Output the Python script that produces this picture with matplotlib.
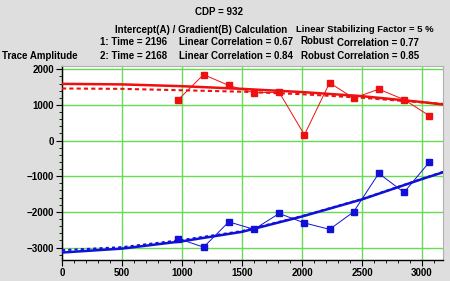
import matplotlib
matplotlib.use('Agg')
import matplotlib.pyplot as plt
from matplotlib.ticker import MultipleLocator

plt.rcParams['font.family'] = ['Liberation Sans', 'DejaVu Sans']
plt.rcParams['font.weight'] = 'bold'

# Gemessene Amplituden (Offset gegen Amplitude)
offsets = [970, 1180, 1390, 1600, 1810, 2020, 2230, 2430, 2640, 2850, 3060]
amp_1 = [1150, 1850, 1545, 1340, 1355, 160, 1620, 1190, 1440, 1150, 700]
amp_2 = [-2750, -2990, -2280, -2490, -2045, -2310, -2490, -2000, -920, -1455, -610]

# Angepasste Kurven
fit_x = [0, 500, 1000, 1500, 2000, 2500, 3000, 3175]
fit_1_linear = [1590, 1575, 1525, 1450, 1360, 1245, 1080, 1010]
fit_1_robust = [1460, 1450, 1410, 1370, 1300, 1200, 1070, 1030]
fit_2_linear = [-3140, -3030, -2825, -2560, -2130, -1650, -1080, -890]
fit_2_robust = [-3075, -2990, -2790, -2540, -2120, -1640, -1075, -880]

red = '#ee1010'
blue = '#1010d8'

fig = plt.figure(figsize=(4.5, 2.81), dpi=100)
fig.patch.set_facecolor('#dedede')
ax = fig.add_axes([0.1378, 0.0747, 0.8466, 0.6903])
ax.set_facecolor('white')

ax.plot(offsets, amp_1, color=red, lw=0.7, marker='s', markersize=4.8, zorder=4)
ax.plot(fit_x, fit_1_linear, color=red, lw=1.8, zorder=3)
ax.plot(fit_x, fit_1_robust, color=red, lw=1.5, ls=(0, (2, 1.5)), zorder=3)

ax.plot(offsets, amp_2, color=blue, lw=0.7, marker='s', markersize=4.8, zorder=4)
ax.plot(fit_x, fit_2_linear, color=blue, lw=1.8, zorder=3)
ax.plot(fit_x, fit_2_robust, color=blue, lw=1.5, ls=(0, (1.5, 1.5)), zorder=3)

ax.set_xlim(0, 3175)
ax.set_ylim(-3350, 2090)
ax.xaxis.set_major_locator(MultipleLocator(500))
ax.xaxis.set_minor_locator(MultipleLocator(100))
ax.yaxis.set_major_locator(MultipleLocator(1000))
ax.yaxis.set_minor_locator(MultipleLocator(200))
ax.grid(True, which='major', color='#66dd55', lw=1.0, zorder=0)
ax.tick_params(axis='both', which='major', labelsize=7, length=4, width=0.8, pad=1.5)
ax.tick_params(axis='both', which='minor', length=2, width=0.6)
for lab in ax.get_xticklabels() + ax.get_yticklabels():
    lab.set_fontweight('bold')

for side in ['top', 'right']:
    ax.spines[side].set_color('#b0b0b0')
for side in ['left', 'bottom']:
    ax.spines[side].set_color('black')
    ax.spines[side].set_linewidth(1.0)

fs = 7
fig.text(0.487, 0.957, 'CDP = 932', ha='center', va='center', fontsize=fs, fontweight='bold')
fig.text(0.256, 0.895, 'Intercept(A) / Gradient(B) Calculation', ha='left', va='center', fontsize=fs, fontweight='bold')
fig.text(0.657, 0.895, 'Linear Stabilizing Factor = 5 %', ha='left', va='center', fontsize=6.8, fontweight='bold')
fig.text(0.222, 0.85, '1: Time = 2196', ha='left', va='center', fontsize=fs, fontweight='bold')
fig.text(0.398, 0.85, 'Linear Correlation = 0.67', ha='left', va='center', fontsize=fs, fontweight='bold')
fig.text(0.668, 0.854, 'Robust', ha='left', va='center', fontsize=fs, fontweight='bold')
fig.text(0.748, 0.847, 'Correlation = 0.77', ha='left', va='center', fontsize=fs, fontweight='bold')
fig.text(0.222, 0.802, '2: Time = 2168', ha='left', va='center', fontsize=fs, fontweight='bold')
fig.text(0.398, 0.802, 'Linear Correlation = 0.84', ha='left', va='center', fontsize=fs, fontweight='bold')
fig.text(0.668, 0.802, 'Robust Correlation = 0.85', ha='left', va='center', fontsize=fs, fontweight='bold')
fig.text(0.004, 0.8, 'Trace Amplitude', ha='left', va='center', fontsize=fs, fontweight='bold')

fig.savefig('out.png', dpi=100, facecolor=fig.get_facecolor())
